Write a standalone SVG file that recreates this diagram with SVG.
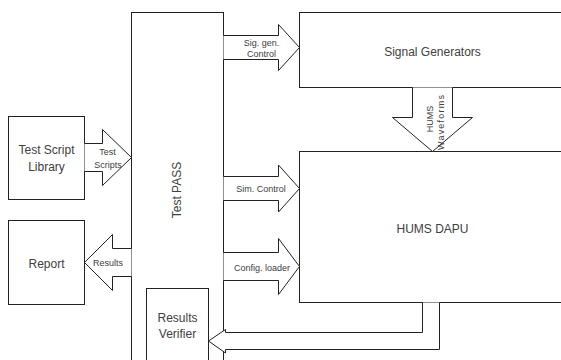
<svg xmlns="http://www.w3.org/2000/svg" width="561" height="360" viewBox="0 0 561 360">
<style>
.box{fill:#fff;stroke:#222;stroke-width:1}
.arr{fill:#fff;stroke:#222;stroke-width:1;stroke-linejoin:miter}
.t{font-family:"Liberation Sans",Arial,sans-serif;fill:#404040;text-anchor:middle}
.big{font-size:12px}
.sm{font-size:9px}
</style>
<rect width="561" height="360" fill="#fff"/>
<g id="test-pass">
<rect class="box" x="131.5" y="12.5" width="92" height="360"/>
<text class="t big" font-size="11" transform="translate(181,190) rotate(-90)">Test PASS</text>
</g>
<g id="signal-generators">
<rect class="box" x="299.5" y="12.5" width="280" height="75"/>
<text class="t big" x="432.5" y="56">Signal Generators</text>
</g>
<g id="hums-dapu">
<rect class="box" x="299.5" y="151.5" width="280" height="151"/>
<text class="t big" x="432.5" y="232.5">HUMS DAPU</text>
</g>
<g id="test-script-library">
<rect class="box" x="8.5" y="116.5" width="76" height="83"/>
<text class="t big" x="46.5" y="154">Test Script</text>
<text class="t big" x="46.5" y="171">Library</text>
</g>
<g id="report">
<rect class="box" x="8.5" y="220.5" width="76" height="84"/>
<text class="t big" x="46.5" y="267.5">Report</text>
</g>
<g id="results-verifier">
<rect class="box" x="146.5" y="288.5" width="62" height="80"/>
<text class="t big" x="177.5" y="322">Results</text>
<text class="t big" x="177.5" y="338">Verifier</text>
</g>
<g id="connectors">
<path class="arr" d="M223.5,35.5 H278.5 V24.5 L299.5,47.5 L278.5,70.5 V59.5 H223.5"/>
<text class="t sm" x="261.5" y="45.5">Sig. gen.</text>
<text class="t sm" x="261.5" y="56.5">Control</text>
<path class="arr" d="M223.5,176.5 H278.5 V165 L299.5,188.5 L278.5,212 V200.5 H223.5"/>
<text class="t sm" x="261" y="191.5">Sim. Control</text>
<path class="arr" d="M223.5,252.5 H278.5 V238.5 L299.5,266.5 L278.5,294.5 V280.5 H223.5"/>
<text class="t sm" x="262" y="270.5">Config. loader</text>
<path class="arr" d="M84.5,143.5 H102.5 V129.5 L131.5,157.5 L102.5,185.5 V171.5 H84.5"/>
<text class="t sm" x="107.5" y="154.5">Test</text>
<text class="t sm" x="108" y="168">Scripts</text>
<path class="arr" d="M131.5,248.5 H112.5 V234.5 L84.5,262.5 L112.5,290.5 V276.5 H131.5"/>
<text class="t sm" x="108" y="265.5">Results</text>
<path class="arr" d="M412.5,87.5 V117.5 H392.5 L432.5,151.5 L472.5,117.5 H452.5 V87.5"/>
<text class="t sm" transform="translate(432.5,119) rotate(-90)">HUMS</text>
<text class="t sm" transform="translate(443.5,122.5) rotate(-90)" textLength="55" lengthAdjust="spacing">Waveforms</text>
<path class="arr" fill="none" d="M422.5,302.5 V332.5 H225.5 V329.5 L208.5,341 L225.5,353 V349.5 H439.5 V302.5"/>
</g>
</svg>
